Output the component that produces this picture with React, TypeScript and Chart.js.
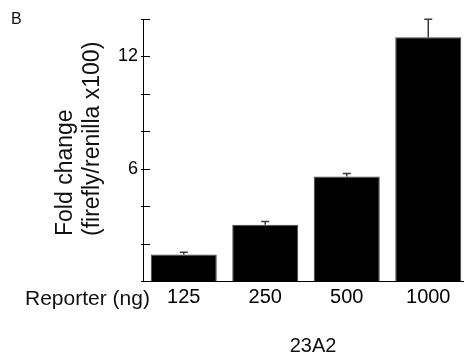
import React, { useEffect, useRef } from "react";
import { Chart, registerables } from "chart.js";

Chart.register(...registerables);

const categories = ["125", "250", "500", "1000"];
const foldChange = [1.42, 3.0, 5.59, 13.03];
const errorUp = [0.11, 0.18, 0.16, 0.95];
const yLabelTicks = [6, 12];
const yTitleLines = ["Fold change", "(firefly/renilla x100)"];
const panelLabel = "B";
const xRowLabel = "Reporter (ng)";
const xGroupLabel = "23A2";

const FONT = "'Liberation Sans', Arial, Helvetica, sans-serif";

const decorPlugin = {
  id: "decor",
  afterDatasetsDraw(chart: any) {
    const ctx = chart.ctx;
    const y = chart.scales.y;
    const meta = chart.getDatasetMeta(0);
    ctx.save();
    ctx.strokeStyle = "#3a3a3a";
    ctx.lineWidth = 1.5;
    meta.data.forEach((el: any, i: number) => {
      const top = y.getPixelForValue(foldChange[i] + errorUp[i]);
      ctx.beginPath();
      ctx.moveTo(el.x, el.y);
      ctx.lineTo(el.x, top);
      ctx.moveTo(el.x - 4, top);
      ctx.lineTo(el.x + 4, top);
      ctx.stroke();
    });
    ctx.restore();
  },
  afterDraw(chart: any) {
    const ctx = chart.ctx;
    const y = chart.scales.y;
    const area = chart.chartArea;
    ctx.save();
    // y tick marks crossing the axis
    ctx.strokeStyle = "#000";
    ctx.lineWidth = 1;
    y.ticks.forEach((t: any) => {
      const py = Math.round(y.getPixelForValue(t.value)) + 0.5;
      ctx.beginPath();
      ctx.moveTo(area.left - 2, py);
      ctx.lineTo(area.left + 7, py);
      ctx.stroke();
    });
    ctx.fillStyle = "#111";
    // panel label
    ctx.font = `16px ${FONT}`;
    ctx.textAlign = "left";
    ctx.textBaseline = "alphabetic";
    ctx.fillText(panelLabel, 11, 24);
    // row label
    ctx.font = `21px ${FONT}`;
    ctx.fillText(xRowLabel, 25, 305);
    // group label
    ctx.font = `20px ${FONT}`;
    ctx.textAlign = "center";
    ctx.fillText(xGroupLabel, 313, 352);
    // y title
    ctx.font = `23px ${FONT}`;
    ctx.textAlign = "left";
    ctx.textBaseline = "middle";
    const xs = [66, 93];
    yTitleLines.forEach((line, i) => {
      ctx.save();
      ctx.translate(xs[i], 236);
      ctx.rotate(-Math.PI / 2);
      ctx.fillText(line, 0, 0);
      ctx.restore();
    });
    ctx.restore();
  },
};

export default function App() {
  const ref = useRef<HTMLCanvasElement | null>(null);
  useEffect(() => {
    document.body.style.margin = "0";
    document.body.style.overflow = "hidden";
    Chart.defaults.font.family = FONT;
    Chart.defaults.color = "#000";
    const chart = new Chart(ref.current as HTMLCanvasElement, {
      type: "bar",
      data: {
        labels: categories,
        datasets: [
          {
            data: foldChange,
            backgroundColor: "#000",
            borderColor: "#444",
            borderWidth: 1,
            barPercentage: 0.81,
            categoryPercentage: 1,
          },
        ],
      },
      options: {
        animation: false,
        responsive: false,
        layout: { padding: { left: 103, right: 1, top: 19, bottom: 29 } },
        plugins: { legend: { display: false }, tooltip: { enabled: false } },
        scales: {
          x: {
            grid: { display: false, drawTicks: false },
            border: { display: true, color: "#000", width: 1 },
            ticks: { font: { size: 20 }, color: "#000", padding: 4, maxRotation: 0 },
            afterFit: (s: any) => {
              s.height = 50;
            },
          },
          y: {
            min: 0,
            max: 14,
            grid: { display: false, drawTicks: false },
            border: { display: true, color: "#000", width: 1 },
            ticks: {
              stepSize: 2,
              padding: 5,
              font: { size: 18 },
              color: "#000",
              callback: (v: any) => (yLabelTicks.includes(Number(v)) ? String(v) : ""),
            },
            afterFit: (s: any) => {
              s.width = 40;
            },
          },
        },
      },
      plugins: [decorPlugin],
    });
    return () => chart.destroy();
  }, []);
  return <canvas ref={ref} width={470} height={360} style={{ display: "block" }} />;
}
